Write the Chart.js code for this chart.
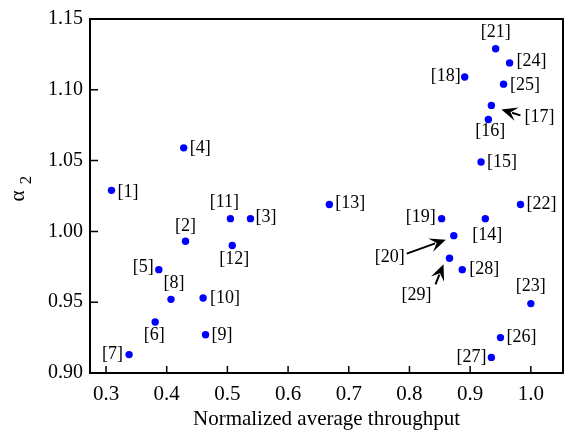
<!DOCTYPE html>
<html>
<head>
<meta charset="utf-8">
<script src="https://cdn.jsdelivr.net/npm/chart.js@4/dist/chart.umd.min.js"></script>
<style>body{margin:0;background:#fff}</style>
</head>
<body>
<canvas id="scatter-chart" width="568" height="437"></canvas>
<script>
// data
var refs = [1,2,3,4,5,6,7,8,9,10,11,12,13,14,15,16,17,18,19,20,21,22,23,24,25,26,27,28,29];
var throughput = [0.309,0.431,0.538,0.428,0.387,0.381,0.338,0.407,0.464,0.460,0.505,0.508,0.668,0.925,0.918,0.930,0.935,0.891,0.853,0.873,0.942,0.983,1.000,0.965,0.955,0.950,0.935,0.887,0.866];
var alpha2 = [1.029,0.993,1.009,1.059,0.973,0.936,0.913,0.952,0.927,0.953,1.009,0.990,1.019,1.009,1.049,1.079,1.089,1.109,1.009,0.997,1.129,1.019,0.949,1.119,1.104,0.925,0.911,0.973,0.981];
var xTicks = [0.3,0.4,0.5,0.6,0.7,0.8,0.9,1.0];
var yTicks = [0.90,0.95,1.00,1.05,1.10,1.15];

// label placement: [align, dx, dy] in pixels from the point
var labelPos = [
  ["left",6,2],["center",0,-15],["left",5,-1],["left",6,0],["right",-5,-2],
  ["center",-1,13],["right",-6,0],["center",3,-16],["left",6,0],["left",7,0],
  ["center",-6,-16],["center",2,14],["left",6,-1],["center",2,17],["left",6,0],
  ["center",2,12],["left",33,12],["right",-4,-1],["right",-6,-1],["center",-64,22],
  ["center",0,-16],["left",6,0],["center",0,-17],["left",7,-2],["left",6.5,1],
  ["left",6,0],["right",-5,0],["left",7,0],["center",-33,37]
];
// arrows: ref -> [tailDx, tailDy, headDx, headDy]
var arrows = {17:[29,10,10,4], 20:[-47,18,-8,4], 29:[-14,26,-6,6]};

var serif = "'Liberation Serif', 'DejaVu Serif', serif";

const drawArrow=(c,x1,y1,x2,y2)=>{
  var a=Math.atan2(y2-y1,x2-x1), L=16, W=7;
  var ca=Math.cos(a), sa=Math.sin(a);
  c.beginPath();
  c.moveTo(x1,y1);
  c.lineTo(x2-ca*L*0.7,y2-sa*L*0.7);
  c.stroke();
  c.beginPath();
  c.moveTo(x2,y2);
  c.lineTo(x2-ca*L+sa*W, y2-sa*L-ca*W);
  c.lineTo(x2-ca*L*0.6, y2-sa*L*0.6);
  c.lineTo(x2-ca*L-sa*W, y2-sa*L+ca*W);
  c.closePath();
  c.fill();
}

const decorations = {
  id: "decorations",
  afterDraw(chart){
    var c = chart.ctx, area = chart.chartArea;
    var xs = chart.scales.x, ys = chart.scales.y;
    c.save();
    c.strokeStyle="#000"; c.fillStyle="#000";
    // box
    c.lineWidth=2;
    c.strokeRect(area.left,area.top,area.right-area.left,area.bottom-area.top);
    // inward ticks
    c.lineWidth=1.5;
    c.beginPath();
    xTicks.forEach(v=>{
      var px=xs.getPixelForValue(v);
      c.moveTo(px,area.bottom); c.lineTo(px,area.bottom-7);
    });
    yTicks.forEach(v=>{
      var py=ys.getPixelForValue(v);
      c.moveTo(area.left,py); c.lineTo(area.left+8,py);
    });
    c.stroke();
    // point labels
    var meta = chart.getDatasetMeta(0);
    c.font = "18px "+serif;
    c.textBaseline="middle";
    meta.data.forEach((el,i)=>{
      var p=labelPos[i];
      c.textAlign=p[0];
      c.fillText("["+refs[i]+"]", el.x+p[1], el.y+p[2]);
      var ar=arrows[refs[i]];
      if(ar){
        c.lineWidth=2;
        drawArrow(c, el.x+ar[0], el.y+ar[1], el.x+ar[2], el.y+ar[3]);
      }
    });
    // axis titles
    c.font = "21px "+serif;
    c.textAlign="center";
    c.fillText("Normalized average throughput", (area.left+area.right)/2, 419);
    c.translate(18,196);
    c.rotate(-Math.PI/2);
    c.font = "21px "+serif;
    c.fillText("\u03b1", 0, 0);
    c.font = "17px "+serif;
    c.fillText("2", 16, 9);
    c.restore();
  }
};

var ctx = document.getElementById("scatter-chart").getContext("2d");
var myScatter = new Chart(ctx, {
  type: "scatter",
  data: {
    datasets: [{
      data: throughput.map((v,i)=>({x:v,y:alpha2[i]})),
      backgroundColor: "#0000ff",
      borderColor: "#0000ff",
      pointRadius: 3.7,
      pointBorderWidth: 0
    }]
  },
  options: {
    responsive: false,
    animation: false,
    layout: { padding: { top: 10, right: 5, left: 0, bottom: 0 } },
    plugins: { legend: { display: false }, tooltip: { enabled: false } },
    scales: {
      x: {
        type: "linear",
        min: 0.2736, max: 1.053,
        afterBuildTicks: s=>{ s.ticks = xTicks.map(v=>({value:v})); },
        afterFit: s=>{ s.height = 64; },
        grid: { display: false, drawTicks: false },
        border: { display: false },
        ticks: { padding: 9, color: "#000", font: { family: serif, size: 21 }, callback: v=>v.toFixed(1) }
      },
      y: {
        type: "linear",
        min: 0.9, max: 1.15,
        afterBuildTicks: s=>{ s.ticks = yTicks.map(v=>({value:v})); },
        afterFit: s=>{ s.width = 90; },
        grid: { display: false, drawTicks: false },
        border: { display: false },
        ticks: { padding: 7, color: "#000", font: { family: serif, size: 20 }, callback: v=>v.toFixed(2) }
      }
    }
  },
  plugins: [decorations]
});
</script>
</body>
</html>
